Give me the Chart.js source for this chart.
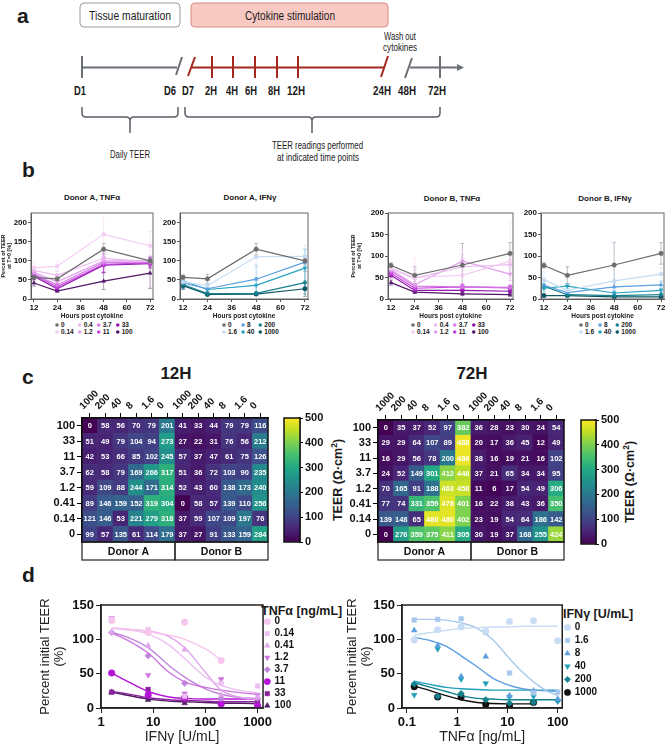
<!DOCTYPE html>
<html>
<head>
<meta charset="utf-8">
<title>TEER after cytokine stimulation</title>
<script src="https://cdn.jsdelivr.net/npm/chart.js@4.4.1/dist/chart.umd.min.js"></script>
<style>
  body { margin: 0; background: #fff; }
  #page { position: relative; width: 669px; height: 746px; overflow: hidden; background: #fff; }
  #page svg, #page canvas { position: absolute; }
  svg text { font-family: 'Liberation Sans', Arial, sans-serif; fill: #1a1a1a; }
</style>
</head>
<body>
<div id="page">
<svg id="deco" width="669" height="746" style="left:0;top:0">
  <!-- panel a: timeline -->
  <text x="17" y="23" font-size="21" font-weight="bold">a</text>
  <rect x="80" y="3" width="100" height="24" rx="4" fill="#fff" stroke="#9b9b9b"/>
  <text x="89" y="20" font-size="12.5" textLength="82" lengthAdjust="spacingAndGlyphs">Tissue maturation</text>
  <rect x="191" y="3" width="197" height="24" rx="4" fill="#f9c9c3" stroke="#d98a80"/>
  <text x="245" y="20" font-size="12.5" textLength="90" lengthAdjust="spacingAndGlyphs">Cytokine stimulation</text>
  <text x="384" y="40" font-size="10" textLength="32" lengthAdjust="spacingAndGlyphs">Wash out</text>
  <text x="383" y="51" font-size="10" textLength="34" lengthAdjust="spacingAndGlyphs">cytokines</text>
  <g stroke="#6b6f76" stroke-width="2" fill="none">
    <line x1="82" y1="67.5" x2="177" y2="67.5"/>
    <line x1="82" y1="56" x2="82" y2="78"/>
    <line x1="176" y1="75" x2="182" y2="57"/>
    <line x1="405" y1="78" x2="412" y2="58"/>
    <line x1="410" y1="67.5" x2="458" y2="67.5"/>
    <line x1="440" y1="56" x2="440" y2="78"/>
  </g>
  <polygon points="457,64 464,67.5 457,71" fill="#6b6f76"/>
  <g stroke="#a3271f" stroke-width="2" fill="none">
    <line x1="188" y1="76" x2="195" y2="57"/>
    <line x1="192" y1="67.5" x2="384" y2="67.5"/>
    <line x1="212" y1="56" x2="212" y2="78"/>
    <line x1="233" y1="56" x2="233" y2="78"/>
    <line x1="255" y1="56" x2="255" y2="78"/>
    <line x1="277" y1="56" x2="277" y2="78"/>
    <line x1="298" y1="56" x2="298" y2="78"/>
    <line x1="381" y1="77" x2="388" y2="56"/>
  </g>
  <g font-size="13" font-weight="bold">
    <text x="74" y="95" textLength="12" lengthAdjust="spacingAndGlyphs">D1</text>
    <text x="164" y="95" textLength="12" lengthAdjust="spacingAndGlyphs">D6</text>
    <text x="182" y="95" textLength="12" lengthAdjust="spacingAndGlyphs">D7</text>
    <text x="205" y="95" textLength="12" lengthAdjust="spacingAndGlyphs">2H</text>
    <text x="226" y="95" textLength="12" lengthAdjust="spacingAndGlyphs">4H</text>
    <text x="245" y="95" textLength="12" lengthAdjust="spacingAndGlyphs">6H</text>
    <text x="268" y="95" textLength="12" lengthAdjust="spacingAndGlyphs">8H</text>
    <text x="287" y="95" textLength="18" lengthAdjust="spacingAndGlyphs">12H</text>
    <text x="373" y="95" textLength="18" lengthAdjust="spacingAndGlyphs">24H</text>
    <text x="398" y="95" textLength="18" lengthAdjust="spacingAndGlyphs">48H</text>
    <text x="428" y="95" textLength="18" lengthAdjust="spacingAndGlyphs">72H</text>
  </g>
  <g stroke="#5a5e66" stroke-width="1.5" fill="none">
    <path d="M82,107 L82,113 Q82,117 86,117 L126,117 Q130,117 130,121 L130,133 M130,121 Q130,117 134,117 L174,117 Q178,117 178,113 L178,107"/>
    <path d="M185,107 L185,113 Q185,117 189,117 L308,117 Q312,117 312,121 L312,133 M312,121 Q312,117 316,117 L436,117 Q440,117 440,113 L440,107"/>
  </g>
  <text x="110" y="158" font-size="10.5" textLength="40" lengthAdjust="spacingAndGlyphs">Daily TEER</text>
  <text x="272" y="149" font-size="10.5" textLength="91" lengthAdjust="spacingAndGlyphs">TEER readings performed</text>
  <text x="277" y="161" font-size="10.5" textLength="82" lengthAdjust="spacingAndGlyphs">at indicated time points</text>

  <!-- panel letters and titles -->
  <text x="22" y="177" font-size="21" font-weight="bold">b</text>
  <text x="22" y="384" font-size="21" font-weight="bold">c</text>
  <text x="22" y="582" font-size="21" font-weight="bold">d</text>
  <g font-size="8" font-weight="bold" text-anchor="middle">
    <text x="92" y="200">Donor A, TNFα</text>
    <text x="250" y="200">Donor A, IFNγ</text>
    <text x="452" y="201">Donor B, TNFα</text>
    <text x="605" y="201">Donor B, IFNγ</text>
  </g>
  <g font-size="17" font-weight="bold" text-anchor="middle">
    <text x="176" y="379">12H</text>
    <text x="472" y="379">72H</text>
  </g>
  <g font-size="12.5" font-weight="bold" text-anchor="middle">
    <text transform="translate(342,480) rotate(-90)">TEER (Ω·cm<tspan font-size="8.5" dy="-5">2</tspan><tspan dy="5">)</tspan></text>
    <text transform="translate(634,482) rotate(-90)">TEER (Ω·cm<tspan font-size="8.5" dy="-5">2</tspan><tspan dy="5">)</tspan></text>
  </g>
  <g font-size="12.5" font-weight="bold">
    <text x="261" y="615">TNFα [ng/mL]</text>
    <text x="563" y="618">IFNγ [U/mL]</text>
  </g>
  <g id="blegends"></g>
</svg>

<canvas id="b1" width="158" height="116" style="left:0px;top:205px"></canvas>
<canvas id="b2" width="153" height="116" style="left:160px;top:205px"></canvas>
<canvas id="b3" width="168" height="116" style="left:350px;top:205px"></canvas>
<canvas id="b4" width="149" height="116" style="left:520px;top:205px"></canvas>
<canvas id="h12" width="240" height="182" style="left:40px;top:380px"></canvas>
<canvas id="cb12" width="46" height="150" style="left:280px;top:405px"></canvas>
<canvas id="h72" width="240" height="182" style="left:336px;top:380px"></canvas>
<canvas id="cb72" width="45" height="150" style="left:577px;top:407px"></canvas>
<canvas id="d1" width="307" height="150" style="left:38px;top:596px"></canvas>
<canvas id="d2" width="324" height="150" style="left:345px;top:596px"></canvas>
</div>

<script>
// ---- b: TEER over time (% of T=0), mean and spread ----
const hours = [12, 24, 48, 72];
const hourTicks = [12, 24, 36, 48, 60, 72];
const pctTicks = [0, 50, 100, 150, 200];
const tnfLevels = ['0', '0.14', '0.4', '1.2', '3.7', '11', '33', '100'];
const ifnLevels = ['0', '1.6', '8', '40', '200', '1000'];

const donorA_tnf = [
  [57, 53, 131, 100], [82, 86, 170, 140], [75, 62, 107, 98], [70, 45, 100, 100],
  [66, 37, 96, 97], [63, 32, 91, 95], [60, 27, 89, 93], [42, 21, 47, 68]
];
const donorA_tnf_sd = [
  [6, 12, 15, 8], [15, 14, 45, 38], [10, 12, 30, 15], [8, 10, 20, 12],
  [8, 10, 25, 15], [8, 8, 20, 10], [8, 6, 20, 12], [8, 4, 22, 40]
];
const donorA_ifn = [
  [57, 53, 131, 100], [45, 35, 111, 112], [42, 27, 52, 97],
  [47, 25, 36, 81], [38, 14, 15, 43], [35, 12, 13, 27]
];
const donorA_ifn_sd = [
  [6, 12, 15, 8], [15, 15, 20, 30], [15, 8, 35, 10],
  [12, 5, 20, 50], [10, 4, 5, 30], [10, 3, 3, 20]
];
const donorB_tnf = [
  [78, 55, 79, 106], [72, 50, 55, 88], [70, 48, 75, 80], [68, 33, 88, 58],
  [65, 30, 28, 27], [60, 25, 28, 26], [55, 20, 20, 18], [38, 16, 12, 10]
];
const donorB_tnf_sd = [
  [6, 20, 50, 25], [10, 45, 60, 90], [8, 20, 20, 20], [8, 8, 15, 15],
  [6, 6, 8, 6], [6, 5, 6, 6], [6, 4, 5, 5], [6, 3, 4, 4]
];
const donorB_ifn = [
  [78, 55, 79, 106], [45, 20, 42, 58], [32, 15, 28, 33],
  [25, 30, 14, 20], [30, 10, 8, 10], [8, 8, 5, 5]
];
const donorB_ifn_sd = [
  [6, 20, 52, 25], [18, 15, 90, 15], [10, 6, 12, 8],
  [8, 6, 5, 5], [5, 3, 3, 3], [3, 2, 2, 2]
];

// ---- c: TEER heatmaps (rows = TNFa ng/mL top to bottom, cols = IFNg U/mL, donor A then B) ----
const rowsTnf = ['100', '33', '11', '3.7', '1.2', '0.41', '0.14', '0'];
const colsIfn = ['1000', '200', '40', '8', '1.6', '0', '1000', '200', '40', '8', '1.6', '0'];
const donors = ['Donor A', 'Donor B'];
const teer12h = [
  [0, 58, 56, 70, 79, 201, 41, 33, 44, 79, 79, 116],
  [51, 49, 79, 104, 94, 273, 27, 22, 31, 76, 56, 212],
  [42, 53, 66, 85, 102, 245, 57, 37, 47, 61, 75, 126],
  [62, 58, 79, 169, 266, 317, 51, 36, 72, 103, 90, 235],
  [59, 109, 88, 244, 171, 314, 52, 43, 60, 138, 173, 240],
  [89, 146, 159, 152, 319, 304, 0, 58, 57, 139, 110, 256],
  [121, 146, 53, 221, 279, 318, 37, 59, 107, 109, 197, 76],
  [99, 57, 135, 61, 114, 179, 37, 27, 91, 133, 159, 284]
];
const teer72h = [
  [0, 35, 37, 52, 97, 382, 36, 28, 23, 30, 24, 54],
  [29, 29, 64, 107, 89, 488, 20, 17, 36, 45, 12, 49],
  [16, 29, 56, 78, 200, 486, 38, 16, 19, 21, 16, 102],
  [24, 52, 149, 301, 412, 448, 37, 21, 65, 34, 34, 95],
  [70, 165, 91, 188, 463, 458, 11, 6, 17, 54, 49, 306],
  [77, 74, 331, 359, 478, 401, 16, 22, 38, 43, 36, 350],
  [139, 148, 65, 480, 480, 402, 23, 19, 54, 64, 186, 142],
  [0, 276, 359, 375, 411, 305, 30, 19, 37, 168, 255, 424]
];
const teerRange = [0, 500];

// ---- d: % initial TEER vs dose, points and fitted curves ----
const ifnDose = [1.6, 8, 40, 200, 1000];
const tnfKeys = ['0', '0.14', '0.41', '1.2', '3.7', '11', '33', '100'];
const pctVsIfn = [
  [128, 110, 125, 69, null],
  [127, 114, 17, 36, 32],
  [110, 91, 85, 19, 16],
  [131, 48, 21, 42, 19],
  [110, 76, 36, 14, 14],
  [51, 19, 15, 6, 3],
  [23, 27, 12, 7, 9],
  [23, 12, 7, 8, 6]
];
const fitIfnX = [1.6, 3, 8, 20, 40, 100, 200, 500, 1000];
const fitVsIfn = [
  [117, 115, 111, 106, 100, 86, 70, null, null],
  [116, 114, 108, 92, 72, 45, 33, 25, 22],
  [116, 115, 112, 104, 88, 52, 26, 15, 13],
  [109, 100, 80, 52, 38, 30, 26, 22, 20],
  [110, 104, 88, 62, 45, 28, 20, 15, 14],
  [51, 40, 24, 16, 14, 13, 13, 13, 13],
  [24, 21, 15, 12, 11, 10, 9, 9, 9],
  [23, 19, 13, 10, 9, 8, 7, 7, 6]
];
const tnfDose = [0.14, 0.41, 1.2, 3.7, 11, 33, 100];
const ifnKeys = ['0', '1.6', '8', '40', '200', '1000'];
const pctVsTnf = [
  [99, 114, 118, 112, 126, 127, 98],
  [128, 129, 130, 110, 51, 22, 23],
  [113, 91, 46, 75, 18, 25, 13],
  [19, 86, 42, 36, 16, 17, 10],
  [35, 17, 21, 12, 7, 8, 11],
  [31, 16, 16, 5, 3, 8, null]
];
const fitTnfX = [0.14, 0.3, 0.6, 1.2, 2.5, 5, 11, 20, 33, 60, 100];
const fitVsTnf = [
  [106, 110, 113, 116, 117, 118, 118, 119, 119, 119, 119],
  [129, 129, 128, 124, 116, 100, 72, 52, 38, 25, 18],
  [103, 98, 90, 76, 60, 44, 33, 28, 26, 25, 24],
  [39, 34, 30, 28, 27, 26, 26, 26, 26, 26, 26],
  [37, 30, 24, 18, 14, 13, 12, 12, 12, 12, 12],
  [32, 25, 18, 12, 8, 6.5, 6, 6, 6, null, null]
];
const pctTicksD = [0, 50, 100, 150];

// ---- styles ----
const FONT = "'Liberation Sans', Arial, sans-serif";
Chart.defaults.font.family = FONT;
Chart.defaults.color = '#1a1a1a';
Chart.defaults.animation = false;

const tnfColorsB = ['#6d6d6d', '#f3cdf2', '#ebb9f0', '#e29fec', '#d577e4', '#c244dc', '#8f16aa', '#521869'];
const ifnColorsB = ['#6d6d6d', '#c6dcf3', '#5b9fe0', '#27a3c0', '#17818f', '#0c5663'];
const tnfShapes = ['circle', 'rect', 'triangle', 'triangle', 'rectRot', 'circle', 'rect', 'triangle'];
const tnfRot = [0, 0, 0, 180, 0, 0, 0, 0];
const ifnShapes = ['circle', 'rect', 'triangle', 'triangle', 'rectRot', 'circle'];
const ifnRot = [0, 0, 0, 180, 0, 0];
const tnfColorsD = ['#f6c6ec', '#ecc0f2', '#e0a6ec', '#cc74df', '#bf85dc', '#b514d6', '#88219c', '#501b60'];
const ifnColorsD = ['#c8dcf3', '#a8c8ee', '#5b9fe0', '#1fa0b8', '#12808d', '#101010'];

const viridisStops = ['#440154', '#482475', '#414487', '#355f8d', '#2a788e', '#21918c',
  '#22a884', '#44bf70', '#7ad151', '#bddf26', '#fde725'];

function hexToRgb(h) {
  return [parseInt(h.slice(1, 3), 16), parseInt(h.slice(3, 5), 16), parseInt(h.slice(5, 7), 16)];
}
function viridis(t) {
  t = Math.max(0, Math.min(1, t));
  const p = t * (viridisStops.length - 1);
  const i = Math.min(Math.floor(p), viridisStops.length - 2);
  const f = p - i;
  const a = hexToRgb(viridisStops[i]), b = hexToRgb(viridisStops[i + 1]);
  const c = a.map((v, k) => Math.round(v + (b[k] - v) * f));
  return `rgb(${c[0]},${c[1]},${c[2]})`;
}

// ---- plugins ----
const frame = (color, width) => ({
  id: 'frame',
  afterDraw(chart) {
    const { ctx, chartArea: a } = chart;
    ctx.save();
    ctx.strokeStyle = color;
    ctx.lineWidth = width;
    ctx.strokeRect(a.left, a.top, a.right - a.left, a.bottom - a.top);
    ctx.restore();
  }
});

const errorBars = {
  id: 'errorBars',
  beforeDatasetsDraw(chart) {
    const { ctx, chartArea: a } = chart;
    const y = chart.scales.y;
    ctx.save();
    ctx.beginPath();
    ctx.rect(a.left, a.top, a.right - a.left, a.bottom - a.top);
    ctx.clip();
    chart.data.datasets.forEach((ds, i) => {
      const meta = chart.getDatasetMeta(i);
      ctx.strokeStyle = ds.borderColor;
      ctx.globalAlpha = 0.55;
      ctx.lineWidth = 0.8;
      meta.data.forEach((pt, j) => {
        const v = ds.data[j].y, e = ds.errors[j];
        const t = y.getPixelForValue(v + e), b = y.getPixelForValue(Math.max(0, v - e));
        ctx.beginPath();
        ctx.moveTo(pt.x, t); ctx.lineTo(pt.x, b);
        ctx.moveTo(pt.x - 2, t); ctx.lineTo(pt.x + 2, t);
        ctx.moveTo(pt.x - 2, b); ctx.lineTo(pt.x + 2, b);
        ctx.stroke();
      });
    });
    ctx.restore();
  }
};

const cellText = {
  id: 'cellText',
  afterDatasetsDraw(chart) {
    const ctx = chart.ctx;
    ctx.save();
    ctx.font = `bold 7.5px ${FONT}`;
    ctx.fillStyle = '#fff';
    ctx.textAlign = 'center';
    ctx.textBaseline = 'middle';
    chart.data.datasets.forEach((ds, i) => {
      chart.getDatasetMeta(i).data.forEach((bar, j) => {
        ctx.fillText(String(ds.values[j]), bar.x, (bar.y + bar.base) / 2 + 0.5);
      });
    });
    ctx.restore();
  }
};

const donorBoxes = {
  id: 'donorBoxes',
  afterDraw(chart) {
    const { ctx, chartArea: a } = chart;
    const xs = chart.scales.x;
    const mid = (xs.getPixelForValue(5) + xs.getPixelForValue(6)) / 2;
    const h = 18;
    ctx.save();
    ctx.strokeStyle = '#222';
    ctx.lineWidth = 1.2;
    ctx.strokeRect(a.left, a.bottom, mid - a.left, h);
    ctx.strokeRect(mid, a.bottom, a.right - mid, h);
    ctx.fillStyle = '#111';
    ctx.font = `bold 10.5px ${FONT}`;
    ctx.textAlign = 'center';
    ctx.textBaseline = 'middle';
    ctx.fillText(donors[0], (a.left + mid) / 2, a.bottom + h / 2 + 1);
    ctx.fillText(donors[1], (mid + a.right) / 2, a.bottom + h / 2 + 1);
    ctx.restore();
  }
};

// ---- b charts ----
function timeChart(id, levels, colors, shapes, rots, means, sds, yMax, withTitle, yWidth) {
  const datasets = levels.map((lv, i) => ({
    label: lv,
    data: hours.map((h, j) => ({ x: h, y: means[i][j] })),
    errors: sds[i],
    showLine: true,
    borderColor: colors[i],
    backgroundColor: colors[i],
    pointStyle: shapes[i],
    rotation: rots[i],
    pointRadius: 2.2,
    pointBorderWidth: 0.6,
    borderWidth: 1.2
  }));
  new Chart(document.getElementById(id), {
    type: 'scatter',
    data: { datasets },
    options: {
      responsive: false,
      layout: { padding: { top: 8, right: 5, left: 0, bottom: 0 } },
      plugins: { legend: { display: false }, tooltip: { enabled: false } },
      scales: {
        x: {
          type: 'linear', min: 10.5, max: 73.5,
          afterBuildTicks: s => { s.ticks = hourTicks.map(v => ({ value: v })); },
          ticks: { font: { size: 8, weight: 'bold' }, color: '#111', padding: 1 },
          grid: { drawOnChartArea: false, tickLength: 3, color: '#555' },
          border: { color: '#555' },
          title: { display: true, text: 'Hours post cytokine', font: { size: 6.5, weight: 'bold' }, padding: { top: 0, bottom: 1 } },
          afterFit: s => { s.height = 22; s.paddingLeft = 0; s.paddingRight = 0; }
        },
        y: {
          min: 0, max: yMax,
          afterBuildTicks: s => { s.ticks = pctTicks.map(v => ({ value: v })); },
          ticks: { font: { size: 8, weight: 'bold' }, color: '#111', padding: 1 },
          grid: { drawOnChartArea: false, tickLength: 3, color: '#555' },
          border: { color: '#555' },
          title: {
            display: withTitle, text: ['Percent of TEER', 'at T=0 [%]'],
            font: { size: 5.5, weight: 'bold', lineHeight: 1.1 }, padding: 0
          },
          afterFit: s => { s.width = yWidth; s.paddingTop = 0; s.paddingBottom = 0; }
        }
      }
    },
    plugins: [errorBars, frame('#666', 1)]
  });
}

timeChart('b1', tnfLevels, tnfColorsB, tnfShapes, tnfRot, donorA_tnf, donorA_tnf_sd, 226, true, 31);
timeChart('b2', ifnLevels, ifnColorsB, ifnShapes, ifnRot, donorA_ifn, donorA_ifn_sd, 226, false, 20);
timeChart('b3', tnfLevels, tnfColorsB, tnfShapes, tnfRot, donorB_tnf, donorB_tnf_sd, 200, true, 38);
timeChart('b4', ifnLevels, ifnColorsB, ifnShapes, ifnRot, donorB_ifn, donorB_ifn_sd, 200, false, 21);

// small two-row legends under the b charts
function smallLegend(x0, y0, labels, colors) {
  const g = document.getElementById('blegends');
  const ns = 'http://www.w3.org/2000/svg';
  let x = x0;
  for (let c = 0; c < Math.ceil(labels.length / 2); c++) {
    let w = 0;
    for (let r = 0; r < 2; r++) {
      const k = c * 2 + r;
      if (k >= labels.length) break;
      const y = y0 + r * 7;
      const dot = document.createElementNS(ns, 'circle');
      dot.setAttribute('cx', x + 2); dot.setAttribute('cy', y - 2);
      dot.setAttribute('r', 1.8); dot.setAttribute('fill', colors[k]);
      g.appendChild(dot);
      const t = document.createElementNS(ns, 'text');
      t.setAttribute('x', x + 6); t.setAttribute('y', y);
      t.setAttribute('font-size', '6.5'); t.setAttribute('font-weight', 'bold');
      t.textContent = labels[k];
      g.appendChild(t);
      w = Math.max(w, t.getComputedTextLength());
    }
    x += w + 10;
  }
}
smallLegend(55, 327, tnfLevels, tnfColorsB);
smallLegend(222, 327, ifnLevels, ifnColorsB);
smallLegend(411, 327, tnfLevels, tnfColorsB);
smallLegend(579, 327, ifnLevels, ifnColorsB);

// ---- c heatmaps ----
const rowsBottomUp = rowsTnf.slice().reverse();
function heatmap(id, values, topHeight) {
  const datasets = rowsBottomUp.map((r, k) => {
    const row = values[rowsTnf.length - 1 - k];
    return {
      label: r,
      data: row.map(() => 1),
      values: row,
      backgroundColor: row.map(v => viridis((v - teerRange[0]) / (teerRange[1] - teerRange[0]))),
      borderWidth: 0,
      barPercentage: 1,
      categoryPercentage: 1
    };
  });
  new Chart(document.getElementById(id), {
    type: 'bar',
    data: { labels: colsIfn, datasets },
    options: {
      responsive: false,
      layout: { padding: { left: 0, right: 12, top: 0, bottom: 20 } },
      plugins: { legend: { display: false }, tooltip: { enabled: false } },
      scales: {
        x: {
          position: 'top', stacked: true,
          grid: { offset: false, drawOnChartArea: false, color: '#000', tickLength: 5 },
          border: { color: '#000', width: 1.5 },
          ticks: { autoSkip: false, minRotation: 45, maxRotation: 45, font: { size: 10, weight: 'bold' }, color: '#111', padding: 1 },
          afterFit: s => { s.height = topHeight; s.paddingLeft = 0; s.paddingRight = 0; }
        },
        y: {
          stacked: true, min: 0, max: rowsTnf.length,
          afterBuildTicks: s => { s.ticks = rowsBottomUp.map((_, i) => ({ value: i + 0.5 })); },
          ticks: { callback: v => rowsBottomUp[Math.floor(v)], font: { size: 11, weight: 'bold' }, color: '#111', padding: 2 },
          grid: { drawOnChartArea: false, color: '#000', tickLength: 5 },
          border: { color: '#000', width: 1.5 },
          afterFit: s => { s.width = 42; s.paddingTop = 0; s.paddingBottom = 0; }
        }
      }
    },
    plugins: [cellText, frame('#111', 1.5), donorBoxes]
  });
}
heatmap('h12', teer12h, 38);
heatmap('h72', teer72h, 40);

function colorbar(id) {
  new Chart(document.getElementById(id), {
    type: 'bar',
    data: {
      labels: [''],
      datasets: [{
        data: [teerRange],
        barPercentage: 1, categoryPercentage: 1, borderWidth: 0,
        backgroundColor: ctx => {
          const a = ctx.chart.chartArea;
          if (!a) return viridis(0.5);
          const g = ctx.chart.ctx.createLinearGradient(0, a.bottom, 0, a.top);
          viridisStops.forEach((c, i) => g.addColorStop(i / (viridisStops.length - 1), c));
          return g;
        }
      }]
    },
    options: {
      responsive: false,
      layout: { padding: { left: 4, right: 0, top: 13, bottom: 13 } },
      plugins: { legend: { display: false }, tooltip: { enabled: false } },
      scales: {
        x: { display: false },
        y: {
          position: 'right', min: teerRange[0], max: teerRange[1],
          ticks: { stepSize: 100, font: { size: 11, weight: 'bold' }, color: '#111', padding: 2 },
          grid: { drawOnChartArea: false, color: '#000', tickLength: 3 },
          border: { color: '#000', width: 1.5 },
          afterFit: s => { s.width = 26; s.paddingTop = 0; s.paddingBottom = 0; }
        }
      }
    },
    plugins: [frame('#111', 1.5)]
  });
}
colorbar('cb12');
colorbar('cb72');

// ---- d dose response ----
function doseChart(id, xs, keys, colors, shapes, rots, pts, fitX, fits, xMin, xMax, xTicks, xTitle, yWidth, padRight, titleGap, itemGap) {
  const datasets = [];
  keys.forEach((k, i) => {
    datasets.push({
      label: k,
      data: xs.map((x, j) => ({ x, y: pts[i][j] })).filter(p => p.y !== null),
      showLine: false,
      pointStyle: shapes[i], rotation: rots[i],
      pointRadius: 3.3, pointBorderWidth: 0.5,
      backgroundColor: colors[i], borderColor: colors[i]
    });
    datasets.push({
      label: k + ' fit', isFit: true,
      data: fitX.map((x, j) => ({ x, y: fits[i][j] })).filter(p => p.y !== null),
      showLine: true, pointRadius: 0, borderWidth: 1.4,
      cubicInterpolationMode: 'monotone',
      borderColor: colors[i], backgroundColor: colors[i]
    });
  });
  new Chart(document.getElementById(id), {
    type: 'scatter',
    data: { datasets },
    options: {
      responsive: false,
      layout: { padding: { top: 9, right: padRight, left: 0, bottom: 0 } },
      plugins: {
        tooltip: { enabled: false },
        legend: {
          position: 'right', align: 'start',
          labels: {
            usePointStyle: true, boxWidth: 4.5, boxHeight: 4.5, padding: itemGap,
            font: { size: 10, weight: 'bold' }, color: '#111',
            filter: (item, data) => !data.datasets[item.datasetIndex].isFit
          },
          // room for the legend heading, which is drawn in the page svg
          title: { display: true, text: ' ', font: { size: titleGap }, padding: 0 }
        }
      },
      scales: {
        x: {
          type: 'logarithmic', min: xMin, max: xMax,
          afterBuildTicks: s => { s.ticks = xTicks.map(v => ({ value: v })); },
          ticks: { callback: v => String(v), font: { size: 13, weight: 'bold' }, color: '#111', padding: 2, maxRotation: 0 },
          grid: { drawOnChartArea: false, color: '#222', tickLength: 5 },
          border: { color: '#222', width: 1.5 },
          title: { display: true, text: xTitle, font: { size: 14 }, color: '#222', padding: { top: 2, bottom: 0 } },
          afterFit: s => { s.height = 38; s.paddingLeft = 0; s.paddingRight = 0; }
        },
        y: {
          min: 0, max: 150,
          afterBuildTicks: s => { s.ticks = pctTicksD.map(v => ({ value: v })); },
          ticks: { font: { size: 13, weight: 'bold' }, color: '#111', padding: 2 },
          grid: { drawOnChartArea: false, color: '#222', tickLength: 5 },
          border: { color: '#222', width: 1.5 },
          title: { display: true, text: ['Percent initial TEER', '(%)'], font: { size: 13, lineHeight: 1.1 }, color: '#222', padding: 0 },
          afterFit: s => { s.width = yWidth; s.paddingTop = 0; s.paddingBottom = 0; }
        }
      }
    },
    plugins: [frame('#222', 1.5)]
  });
}
doseChart('d1', ifnDose, tnfKeys, tnfColorsD, tnfShapes, tnfRot, pctVsIfn, fitIfnX, fitVsIfn,
  1, 1270, [1, 10, 100, 1000], 'IFNγ [U/mL]', 63, 41, 8, 2);
doseChart('d2', tnfDose, ifnKeys, ifnColorsD, ifnShapes, ifnRot, pctVsTnf, fitTnfX, fitVsTnf,
  0.08, 123, [0.1, 1, 10, 100], 'TNFα [ng/mL]', 57, 62, 12, 3);
</script>
</body>
</html>
